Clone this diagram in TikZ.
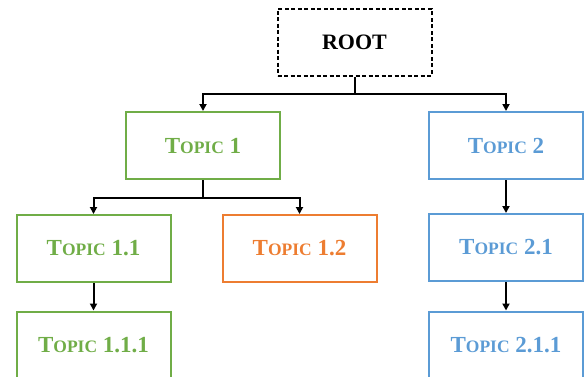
\documentclass[tikz,border=0pt]{standalone}
\usepackage{fontspec}
\setmainfont{Liberation Serif}
\usetikzlibrary{arrows.meta}
\definecolor{tgreen}{HTML}{70AD47}
\definecolor{tblue}{HTML}{5B9BD5}
\definecolor{torange}{HTML}{ED7D31}
% fake small caps: full-size T, reduced OPIC, full-size number
\newcommand\tpc[1]{{\fontsize{23}{24}\selectfont T{\fontsize{17.5}{18}\selectfont OPIC} #1}}
\begin{document}
\begin{tikzpicture}[x=1pt,y=-1pt,
  box/.style={draw,line width=2pt,minimum width=154pt,minimum height=67pt,
    inner sep=0pt,font=\bfseries\fontsize{22}{24}\selectfont},
  conn/.style={line width=2pt,black},
  arr/.style={conn,-{Triangle[length=7pt,width=7pt]}}]
\useasboundingbox (0,0) rectangle (584,376);
\node[box,dash pattern=on 4pt off 2.5pt] (root) at (354.5,42) {ROOT};
\node[box,tgreen,text=tgreen] (t1) at (203,145.5) {\tpc{1}};
\node[box,tblue,text=tblue] (t2) at (506,145.5) {\tpc{2}};
\node[box,tgreen,text=tgreen] (t11) at (93.5,248.5) {\tpc{1.1}};
\node[box,torange,text=torange] (t12) at (299.5,248.5) {\tpc{1.2}};
\node[box,tblue,text=tblue] (t21) at (506,247.5) {\tpc{2.1}};
\node[box,tgreen,text=tgreen] (t111) at (93.5,345) {\tpc{1.1.1}};
\node[box,tblue,text=tblue] (t211) at (506,345) {\tpc{2.1.1}};
% root fork
\coordinate (rj) at ([yshift=-17pt]root.south);
\draw[conn] (root.south) -- (rj);
\draw[arr] (rj) -| (t1.north);
\draw[arr] (rj) -| (t2.north);
% topic 1 fork
\coordinate (j1) at ([yshift=-18pt]t1.south);
\draw[conn] (t1.south) -- (j1);
\draw[arr] (j1) -| (t11.north);
\draw[arr] (j1) -| (t12.north);
% straight links
\draw[arr] (t11.south) -- (t111.north);
\draw[arr] (t2.south) -- (t21.north);
\draw[arr] (t21.south) -- (t211.north);
\end{tikzpicture}
\end{document}
